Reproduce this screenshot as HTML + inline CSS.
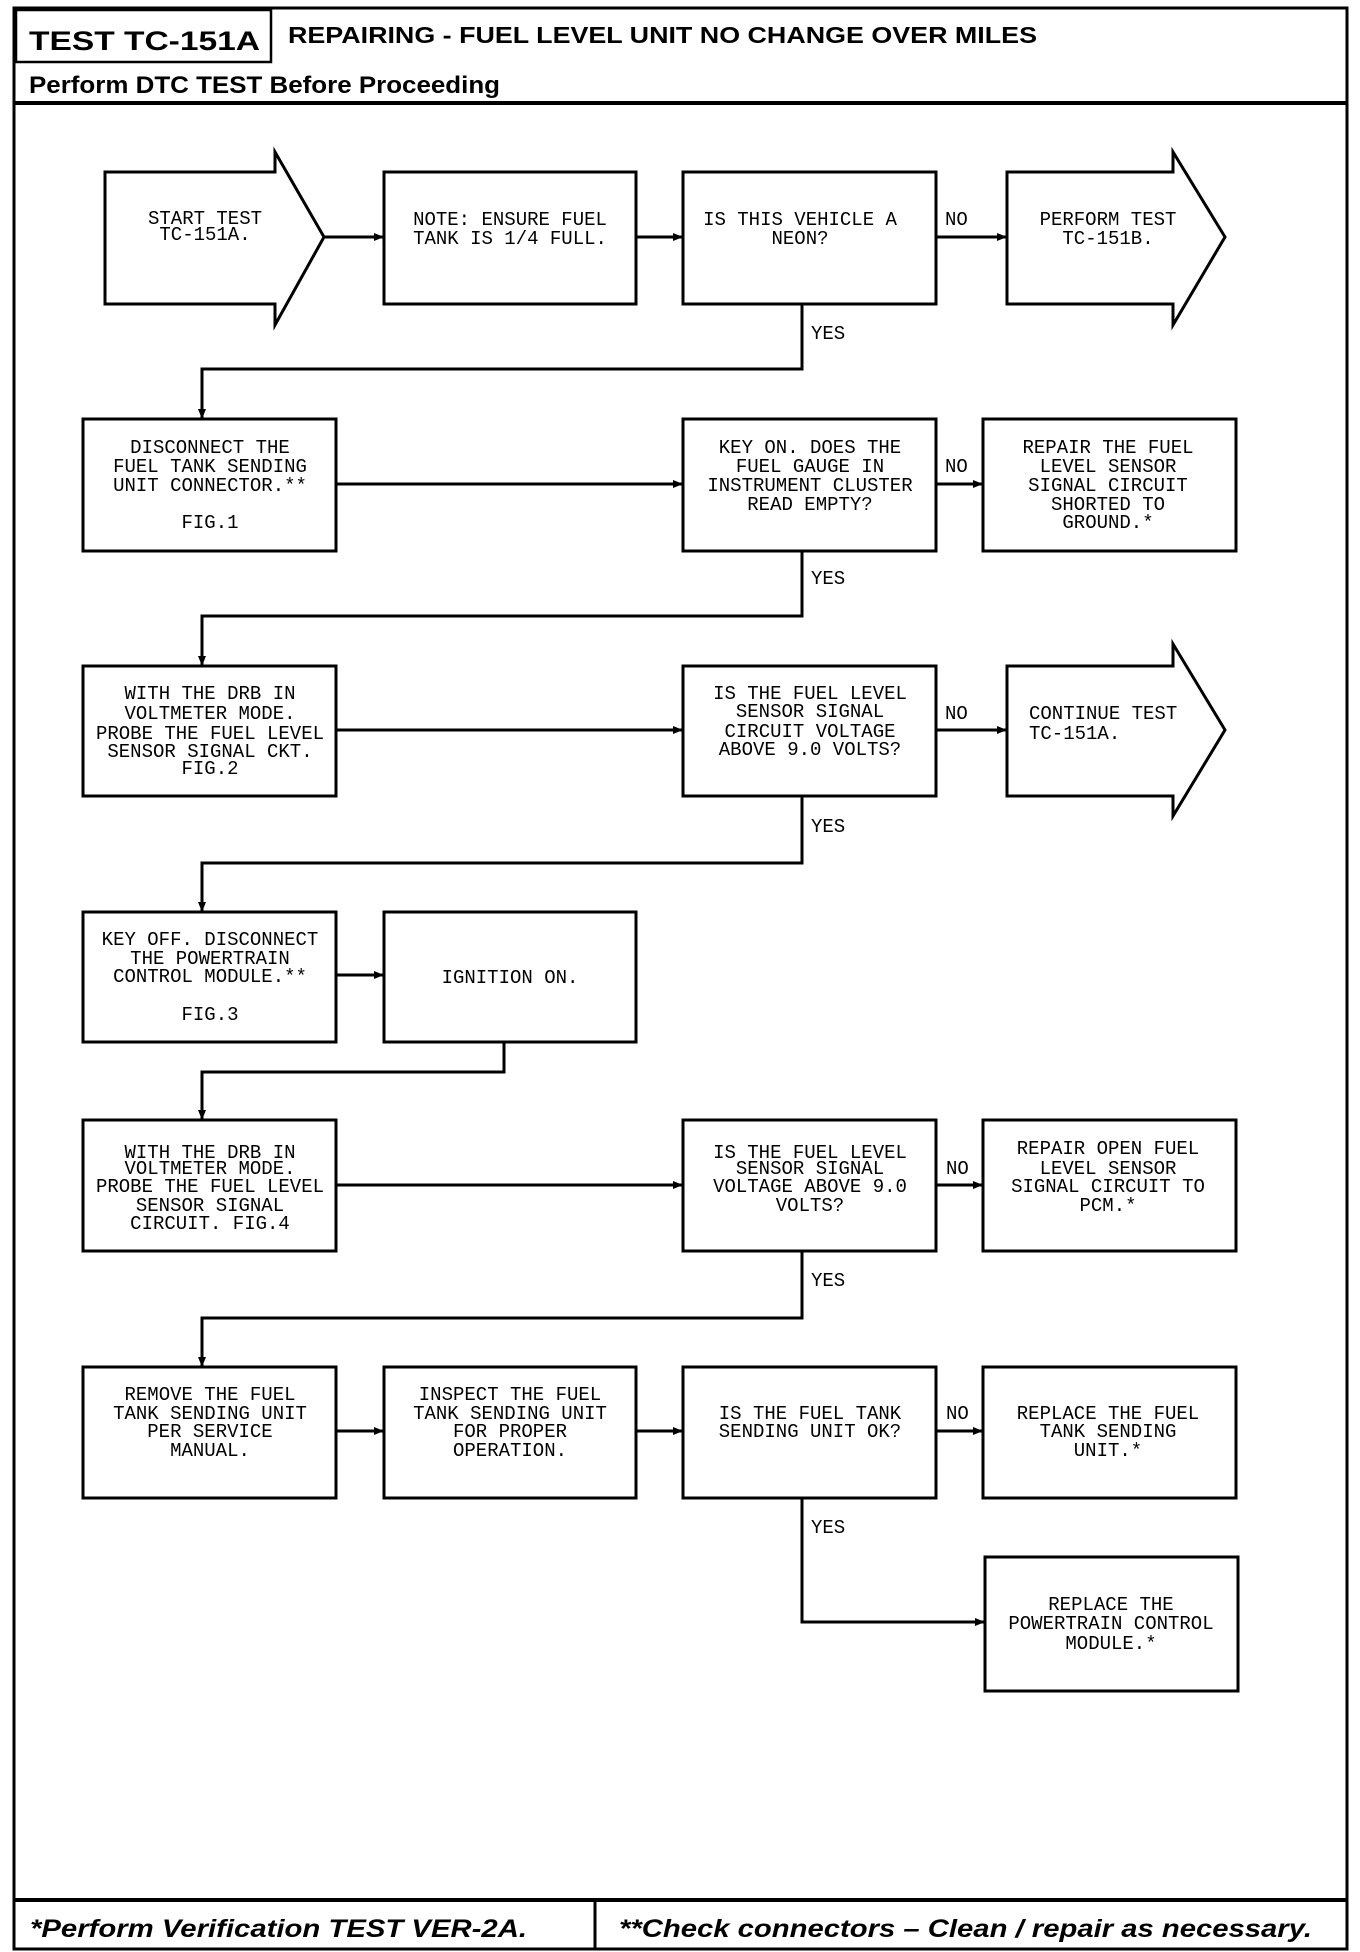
<!DOCTYPE html>
<html><head><meta charset="utf-8"><style>
html,body{margin:0;padding:0;background:#fff;}
svg{display:block;}
.t{font-family:"Liberation Mono",monospace;font-size:19px;fill:#000;text-anchor:middle;}
.l{font-family:"Liberation Mono",monospace;font-size:19px;fill:#000;}
.h{font-family:"Liberation Sans",sans-serif;font-weight:bold;fill:#000;}
.b{fill:#fff;stroke:#000;stroke-width:3;}
.c{fill:none;stroke:#000;stroke-width:3;}
</style></head><body>
<svg width="1360" height="1952" viewBox="0 0 1360 1952" xmlns="http://www.w3.org/2000/svg">
<defs><marker id="a" markerWidth="10" markerHeight="10" refX="9" refY="5" orient="auto" markerUnits="userSpaceOnUse"><path d="M0,1 L10,5 L0,9 z" fill="#000"/></marker></defs>
<!-- outer frame -->
<rect x="14" y="8" width="1333" height="1941" fill="none" stroke="#000" stroke-width="3"/>
<rect x="16" y="10" width="255" height="52" fill="none" stroke="#000" stroke-width="2.5"/>
<text class="h" x="29" y="50" font-size="27" textLength="231" lengthAdjust="spacingAndGlyphs">TEST TC-151A</text>
<text class="h" x="288" y="43" font-size="23" textLength="749" lengthAdjust="spacingAndGlyphs">REPAIRING - FUEL LEVEL UNIT NO CHANGE OVER MILES</text>
<text class="h" x="29" y="93" font-size="24" textLength="471" lengthAdjust="spacingAndGlyphs">Perform DTC TEST Before Proceeding</text>
<line x1="14" y1="103" x2="1347" y2="103" stroke="#000" stroke-width="4"/>
<!-- footer -->
<line x1="14" y1="1900" x2="1347" y2="1900" stroke="#000" stroke-width="4"/>
<line x1="595" y1="1900" x2="595" y2="1949" stroke="#000" stroke-width="3"/>
<text class="h" x="30" y="1937" font-size="25" font-style="italic" textLength="497" lengthAdjust="spacingAndGlyphs">*Perform Verification TEST VER-2A.</text>
<text class="h" x="619" y="1937" font-size="25" font-style="italic" textLength="693" lengthAdjust="spacingAndGlyphs">**Check connectors – Clean / repair as necessary.</text>

<!-- Row 1 -->
<path class="b" d="M105,172 H275 V152 L324,237 L275,325 V304 H105 Z"/>
<text class="t" x="205" y="224">START TEST</text><text class="t" x="205" y="240">TC-151A.</text>
<rect class="b" x="384" y="172" width="252" height="132"/>
<text class="t" x="510" y="225">NOTE: ENSURE FUEL</text><text class="t" x="510" y="244">TANK IS 1/4 FULL.</text>
<rect class="b" x="683" y="172" width="253" height="132"/>
<text class="t" x="800" y="225">IS THIS VEHICLE A</text><text class="t" x="800" y="244">NEON?</text>
<path class="b" d="M1007,172 H1173 V152 L1225,237 L1173,325 V304 H1007 Z"/>
<text class="t" x="1108" y="225">PERFORM TEST</text><text class="t" x="1108" y="244">TC-151B.</text>
<line class="c" x1="324" y1="237" x2="383" y2="237" marker-end="url(#a)"/>
<line class="c" x1="636" y1="237" x2="682" y2="237" marker-end="url(#a)"/>
<line class="c" x1="936" y1="237" x2="1006" y2="237" marker-end="url(#a)"/>
<text class="l" x="945" y="225">NO</text>
<polyline class="c" points="802,304 802,369 202,369 202,418" marker-end="url(#a)"/>
<text class="l" x="811" y="339">YES</text>

<!-- Row 2 -->
<rect class="b" x="83" y="419" width="253" height="132"/>
<text class="t" x="210" y="453">DISCONNECT THE</text><text class="t" x="210" y="472">FUEL TANK SENDING</text><text class="t" x="210" y="491">UNIT CONNECTOR.**</text><text class="t" x="210" y="528">FIG.1</text>
<rect class="b" x="683" y="419" width="253" height="132"/>
<text class="t" x="810" y="453">KEY ON. DOES THE</text><text class="t" x="810" y="472">FUEL GAUGE IN</text><text class="t" x="810" y="491">INSTRUMENT CLUSTER</text><text class="t" x="810" y="510">READ EMPTY?</text>
<rect class="b" x="983" y="419" width="253" height="132"/>
<text class="t" x="1108" y="453">REPAIR THE FUEL</text><text class="t" x="1108" y="472">LEVEL SENSOR</text><text class="t" x="1108" y="491">SIGNAL CIRCUIT</text><text class="t" x="1108" y="510">SHORTED TO</text><text class="t" x="1108" y="528">GROUND.*</text>
<line class="c" x1="336" y1="484" x2="682" y2="484" marker-end="url(#a)"/>
<line class="c" x1="936" y1="484" x2="982" y2="484" marker-end="url(#a)"/>
<text class="l" x="945" y="472">NO</text>
<polyline class="c" points="802,551 802,616 202,616 202,665" marker-end="url(#a)"/>
<text class="l" x="811" y="584">YES</text>

<!-- Row 3 -->
<rect class="b" x="83" y="666" width="253" height="130"/>
<text class="t" x="210" y="699">WITH THE DRB IN</text><text class="t" x="210" y="719">VOLTMETER MODE.</text><text class="t" x="210" y="739">PROBE THE FUEL LEVEL</text><text class="t" x="210" y="757">SENSOR SIGNAL CKT.</text><text class="t" x="210" y="774">FIG.2</text>
<rect class="b" x="683" y="666" width="253" height="130"/>
<text class="t" x="810" y="699">IS THE FUEL LEVEL</text><text class="t" x="810" y="717">SENSOR SIGNAL</text><text class="t" x="810" y="737">CIRCUIT VOLTAGE</text><text class="t" x="810" y="755">ABOVE 9.0 VOLTS?</text>
<path class="b" d="M1007,666 H1173 V644 L1225,730 L1173,816 V796 H1007 Z"/>
<text class="l" x="1029" y="719">CONTINUE TEST</text><text class="l" x="1029" y="739">TC-151A.</text>
<line class="c" x1="336" y1="730" x2="682" y2="730" marker-end="url(#a)"/>
<line class="c" x1="936" y1="730" x2="1006" y2="730" marker-end="url(#a)"/>
<text class="l" x="945" y="719">NO</text>
<polyline class="c" points="802,796 802,863 202,863 202,911" marker-end="url(#a)"/>
<text class="l" x="811" y="832">YES</text>

<!-- Row 4 -->
<rect class="b" x="83" y="912" width="253" height="130"/>
<text class="t" x="210" y="945">KEY OFF. DISCONNECT</text><text class="t" x="210" y="964">THE POWERTRAIN</text><text class="t" x="210" y="982">CONTROL MODULE.**</text><text class="t" x="210" y="1020">FIG.3</text>
<rect class="b" x="384" y="912" width="252" height="130"/>
<text class="t" x="510" y="983">IGNITION ON.</text>
<line class="c" x1="336" y1="975" x2="383" y2="975" marker-end="url(#a)"/>
<polyline class="c" points="504,1042 504,1072 202,1072 202,1119" marker-end="url(#a)"/>

<!-- Row 5 -->
<rect class="b" x="83" y="1120" width="253" height="131"/>
<text class="t" x="210" y="1158">WITH THE DRB IN</text><text class="t" x="210" y="1174">VOLTMETER MODE.</text><text class="t" x="210" y="1192">PROBE THE FUEL LEVEL</text><text class="t" x="210" y="1211">SENSOR SIGNAL</text><text class="t" x="210" y="1229">CIRCUIT. FIG.4</text>
<rect class="b" x="683" y="1120" width="253" height="131"/>
<text class="t" x="810" y="1158">IS THE FUEL LEVEL</text><text class="t" x="810" y="1174">SENSOR SIGNAL</text><text class="t" x="810" y="1192">VOLTAGE ABOVE 9.0</text><text class="t" x="810" y="1211">VOLTS?</text>
<rect class="b" x="983" y="1120" width="253" height="131"/>
<text class="t" x="1108" y="1154">REPAIR OPEN FUEL</text><text class="t" x="1108" y="1174">LEVEL SENSOR</text><text class="t" x="1108" y="1192">SIGNAL CIRCUIT TO</text><text class="t" x="1108" y="1211">PCM.*</text>
<line class="c" x1="336" y1="1185" x2="682" y2="1185" marker-end="url(#a)"/>
<line class="c" x1="936" y1="1185" x2="982" y2="1185" marker-end="url(#a)"/>
<text class="l" x="946" y="1174">NO</text>
<polyline class="c" points="802,1251 802,1318 202,1318 202,1366" marker-end="url(#a)"/>
<text class="l" x="811" y="1286">YES</text>

<!-- Row 6 -->
<rect class="b" x="83" y="1367" width="253" height="131"/>
<text class="t" x="210" y="1400">REMOVE THE FUEL</text><text class="t" x="210" y="1419">TANK SENDING UNIT</text><text class="t" x="210" y="1437">PER SERVICE</text><text class="t" x="210" y="1456">MANUAL.</text>
<rect class="b" x="384" y="1367" width="252" height="131"/>
<text class="t" x="510" y="1400">INSPECT THE FUEL</text><text class="t" x="510" y="1419">TANK SENDING UNIT</text><text class="t" x="510" y="1437">FOR PROPER</text><text class="t" x="510" y="1456">OPERATION.</text>
<rect class="b" x="683" y="1367" width="253" height="131"/>
<text class="t" x="810" y="1419">IS THE FUEL TANK</text><text class="t" x="810" y="1437">SENDING UNIT OK?</text>
<rect class="b" x="983" y="1367" width="253" height="131"/>
<text class="t" x="1108" y="1419">REPLACE THE FUEL</text><text class="t" x="1108" y="1437">TANK SENDING</text><text class="t" x="1108" y="1456">UNIT.*</text>
<line class="c" x1="336" y1="1431" x2="383" y2="1431" marker-end="url(#a)"/>
<line class="c" x1="636" y1="1431" x2="682" y2="1431" marker-end="url(#a)"/>
<line class="c" x1="936" y1="1431" x2="982" y2="1431" marker-end="url(#a)"/>
<text class="l" x="946" y="1419">NO</text>
<polyline class="c" points="802,1498 802,1622 984,1622" marker-end="url(#a)"/>
<text class="l" x="811" y="1533">YES</text>

<!-- PCM -->
<rect class="b" x="985" y="1557" width="253" height="134"/>
<text class="t" x="1111" y="1610">REPLACE THE</text><text class="t" x="1111" y="1629">POWERTRAIN CONTROL</text><text class="t" x="1111" y="1649">MODULE.*</text>
</svg>
</body></html>
